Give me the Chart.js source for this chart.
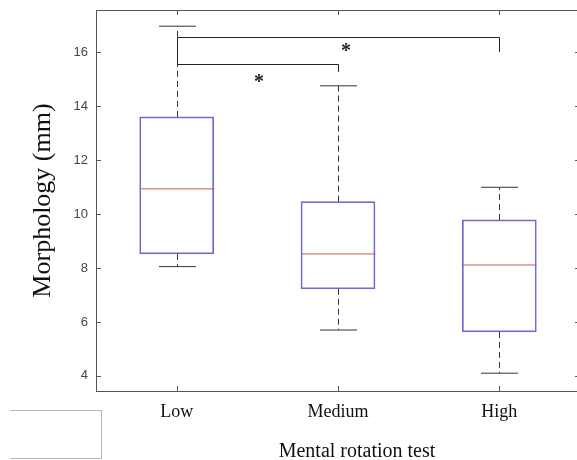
<!DOCTYPE html>
<html>
<head>
<meta charset="utf-8">
<script src="https://cdn.jsdelivr.net/npm/chart.js@4.4.1/dist/chart.umd.min.js"></script>
<style>
  html, body { margin: 0; padding: 0; background: #fff; overflow: hidden; }
  #wrap { position: relative; width: 577px; height: 460px; overflow: hidden; }
  #chart { position: absolute; left: 0; top: 0; }
  #blank-box { position: absolute; left: 10px; top: 410px; width: 91px; height: 47px;
    border: 1px solid #b8b8b8; border-left: none; }
</style>
</head>
<body>
<div id="wrap">
  <canvas id="chart" width="584" height="460"></canvas>
  <div id="blank-box"></div>
</div>
<script>
var categories = ["Low", "Medium", "High"];
var whiskerMin = [8.05, 5.7, 4.1];
var boxQ1 = [8.52, 7.23, 5.63];
var medians = [10.93, 8.52, 8.11];
var boxQ3 = [13.6, 10.46, 9.78];
var whiskerMax = [16.96, 14.75, 10.99];
var yTicks = [4, 6, 8, 10, 12, 14, 16];

// significance brackets: category index from/to, bar level, leg ends
var bracketFrom = [0, 0];
var bracketTo = [2, 1];
var bracketLevel = [16.55, 15.55];
var bracketLeftEnd = [15.55, 15.55];
var bracketRightEnd = [16.0, 15.27];
var starX = [1.05, 0.51];
var starY = [16.19, 15.04];

var AXIS = "#555";

function line(ctx, x1, y1, x2, y2) {
  ctx.beginPath();
  ctx.moveTo(x1, y1);
  ctx.lineTo(x2, y2);
  ctx.stroke();
}

var boxExtras = {
  id: "boxExtras",
  afterDatasetsDraw: function (chart) {
    var ctx = chart.ctx, x = chart.scales.x, y = chart.scales.y;
    var bars = chart.getDatasetMeta(0).data;
    ctx.save();
    ctx.lineWidth = 1;
    for (var i = 0; i < categories.length; i++) {
      var xc = Math.round(x.getPixelForValue(i)) + 0.5;
      var half = bars[i].width / 2;
      // dashed whiskers
      ctx.strokeStyle = "#333";
      ctx.setLineDash([6, 4]);
      line(ctx, xc, y.getPixelForValue(boxQ3[i]), xc, y.getPixelForValue(whiskerMax[i]));
      line(ctx, xc, y.getPixelForValue(boxQ1[i]), xc, y.getPixelForValue(whiskerMin[i]));
      ctx.setLineDash([]);
      // caps
      line(ctx, xc - half / 2, y.getPixelForValue(whiskerMax[i]), xc + half / 2, y.getPixelForValue(whiskerMax[i]));
      line(ctx, xc - half / 2, y.getPixelForValue(whiskerMin[i]), xc + half / 2, y.getPixelForValue(whiskerMin[i]));
      // median
      ctx.strokeStyle = "#c25858";
      line(ctx, xc - half, y.getPixelForValue(medians[i]), xc + half, y.getPixelForValue(medians[i]));
    }
    // brackets
    ctx.strokeStyle = "#222";
    for (var b = 0; b < bracketFrom.length; b++) {
      var x1 = Math.round(x.getPixelForValue(bracketFrom[b])) + 0.5;
      var x2 = Math.round(x.getPixelForValue(bracketTo[b])) + 0.5;
      var yl = Math.round(y.getPixelForValue(bracketLevel[b])) + 0.5;
      ctx.beginPath();
      ctx.moveTo(x1, y.getPixelForValue(bracketLeftEnd[b]));
      ctx.lineTo(x1, yl);
      ctx.lineTo(x2, yl);
      ctx.lineTo(x2, y.getPixelForValue(bracketRightEnd[b]));
      ctx.stroke();
    }
    ctx.fillStyle = "#222";
    ctx.font = "bold 20px 'Liberation Serif'";
    ctx.textAlign = "center";
    ctx.textBaseline = "alphabetic";
    for (var s = 0; s < starX.length; s++) {
      ctx.fillText("*", x.getPixelForValue(starX[s]), y.getPixelForValue(starY[s]) + 10);
    }
    ctx.restore();
  },
  afterDraw: function (chart) {
    var ctx = chart.ctx, x = chart.scales.x, y = chart.scales.y;
    var a = chart.chartArea;
    ctx.save();
    ctx.strokeStyle = AXIS;
    ctx.lineWidth = 1;
    // top and right frame
    line(ctx, a.left, a.top + 0.5, a.right, a.top + 0.5);
    line(ctx, a.right - 0.5, a.top, a.right - 0.5, a.bottom);
    // inward ticks
    y.ticks.forEach(function (t) {
      var py = Math.round(y.getPixelForValue(t.value)) + 0.5;
      line(ctx, a.left, py, a.left + 5, py);
      line(ctx, a.right, py, a.right - 5, py);
    });
    for (var i = 0; i < categories.length; i++) {
      var px = Math.round(x.getPixelForValue(i)) + 0.5;
      line(ctx, px, a.bottom, px, a.bottom - 5);
      line(ctx, px, a.top, px, a.top + 5);
    }
    // x axis title
    ctx.fillStyle = "#111";
    ctx.font = "20px 'Liberation Serif'";
    ctx.textAlign = "center";
    ctx.textBaseline = "alphabetic";
    ctx.fillText("Mental rotation test", (a.left + a.right) / 2 + 19, 457);
    ctx.restore();
  }
};

var ctx = document.getElementById("chart").getContext("2d");
var myChart = new Chart(ctx, {
  type: "bar",
  data: {
    labels: categories,
    datasets: [
      {
        label: "Morphology",
        data: boxQ1.map(function (q, i) { return [q, boxQ3[i]]; }),
        backgroundColor: "rgba(0,0,0,0)",
        borderColor: "#6b6bd0",
        borderWidth: 1,
        borderSkipped: false,
        barThickness: 74,
      },
    ],
  },
  plugins: [boxExtras],
  options: {
    responsive: false,
    animation: false,
    devicePixelRatio: 1,
    layout: { padding: { top: 10, right: 4, left: 0, bottom: 0 } },
    plugins: {
      legend: { display: false },
      tooltip: { enabled: false },
    },
    scales: {
      x: {
        offset: true,
        grid: { display: false, drawTicks: false },
        border: { display: true, color: AXIS, width: 1 },
        ticks: {
          padding: 10,
          color: "#111",
          font: { family: "'Liberation Serif'", size: 18 },
        },
        afterFit: function (scale) {
          scale.height = 69;
          scale.paddingLeft = 0;
          scale.paddingRight = 0;
        },
      },
      y: {
        min: 3.44,
        max: 17.56,
        grid: { display: false, drawTicks: false },
        border: { display: true, color: AXIS, width: 1 },
        afterBuildTicks: function (scale) {
          scale.ticks = yTicks.map(function (v) { return { value: v }; });
        },
        ticks: {
          padding: 8,
          color: "#444",
          font: { family: "'Liberation Sans'", size: 13 },
        },
        title: {
          display: true,
          text: "Morphology (mm)",
          color: "#111",
          font: { family: "'Liberation Serif'", size: 26, lineHeight: 1.2 },
          padding: { top: 28, bottom: 0 },
        },
        afterFit: function (scale) {
          scale.width = 96;
          scale.paddingTop = 0;
          scale.paddingBottom = 0;
        },
      },
    },
  },
});
</script>
</body>
</html>
